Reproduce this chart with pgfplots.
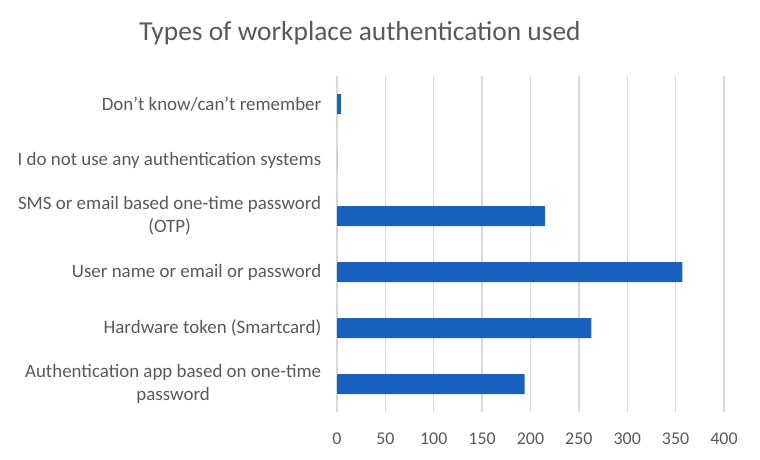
\documentclass[border=0pt]{standalone}
\usepackage{pgfplots}
\pgfplotsset{compat=1.18}
\usepackage{fontspec}
\setmainfont{Carlito}
\definecolor{barc}{HTML}{1862BD}
\definecolor{txt}{HTML}{595959}
\definecolor{grd}{HTML}{D9D9D9}
\begin{document}
\begin{tikzpicture}
\useasboundingbox (0,0) rectangle (760bp,460bp);
\node[text=txt, font=\fontsize{27.5}{32}\selectfont] at (360bp,427bp) {Types of workplace authentication used};
\begin{axis}[at={(337bp,48bp)}, anchor=south west, scale only axis,
  width=387bp, height=336bp,
  xmin=0, xmax=400, ymin=-0.5, ymax=5.5, clip=false,
  xtick={0,50,...,400}, ytick={0,...,5},
  yticklabels={{Authentication app based on one-time\\password},
               {Hardware token (Smartcard)},
               {User name or email or password},
               {SMS or email based one-time password\\(OTP)},
               {I do not use any authentication systems},
               {Don’t know/can’t remember}},
  xmajorgrids, grid style={grd, line width=1.4bp},
  axis line style={draw=none}, tick style={draw=none},
  ticklabel style={text=txt},
  xticklabel style={font=\fontsize{18}{22}\selectfont, yshift=-17bp},
  yticklabel style={font=\fontsize{19}{23}\selectfont, align=center, xshift=-8bp},
  /pgf/number format/assume math mode=true,
  xbar, bar width=20bp]
\addplot[fill=barc, draw=none] coordinates {(194,0) (263,1) (357,2) (215,3) (0,4) (4,5)};
\end{axis}
\end{tikzpicture}
\end{document}
